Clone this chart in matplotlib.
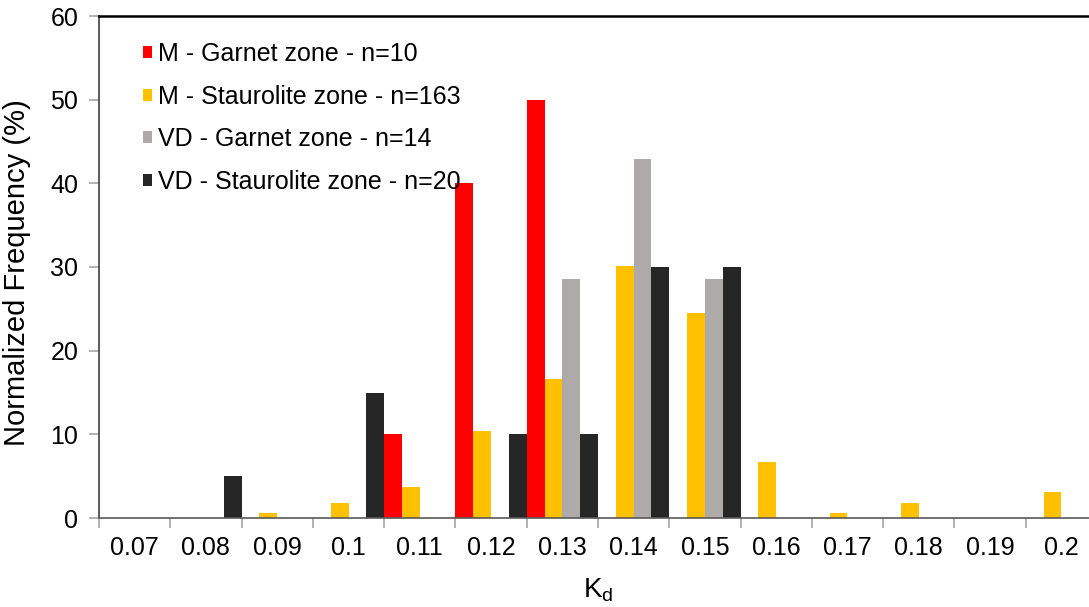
import numpy as np
import matplotlib
matplotlib.use("Agg")
import matplotlib.pyplot as plt

plt.rcParams['font.family'] = ['Liberation Sans', 'DejaVu Sans']
plt.rcParams['mathtext.default'] = 'regular'

kd_bins = ["0.07", "0.08", "0.09", "0.1", "0.11", "0.12", "0.13",
           "0.14", "0.15", "0.16", "0.17", "0.18", "0.19", "0.2"]

m_garnet = [0, 0, 0, 0, 10, 40, 50, 0, 0, 0, 0, 0, 0, 0]
m_staurolite = [0, 0, 0.61, 1.84, 3.68, 10.43, 16.56, 30.06, 24.54, 6.75, 0.61, 1.84, 0, 3.07]
vd_garnet = [0, 0, 0, 0, 0, 0, 28.57, 42.86, 28.57, 0, 0, 0, 0, 0]
vd_staurolite = [0, 5, 0, 15, 0, 10, 10, 30, 30, 0, 0, 0, 0, 0]

series = [m_garnet, m_staurolite, vd_garnet, vd_staurolite]
labels = ["M - Garnet zone - n=10", "M - Staurolite zone - n=163",
          "VD - Garnet zone - n=14", "VD - Staurolite zone - n=20"]
colors = ["#FF0000", "#FFC000", "#AEAAAA", "#262626"]

fig = plt.figure(figsize=(10.89, 6.07), dpi=100)
# axes runs a little past the right edge, like the original screenshot
ax = fig.add_axes([99/1089, 89/607, 998/1089, 502/607])

x = np.arange(len(kd_bins))
w = 0.25
for j, (vals, lab, col) in enumerate(zip(series, labels, colors)):
    ax.bar(x - 0.375 + j*w, vals, width=w, color=col, label=lab,
           edgecolor='none', zorder=2)

ax.set_xlim(-0.5, len(kd_bins) - 0.5)
ax.set_ylim(0, 60)
ax.set_yticks(range(0, 61, 10))

ax.set_xticks(np.arange(-0.5, len(kd_bins), 1))
ax.set_xticklabels([])
ax.set_xticks(x, minor=True)
ax.set_xticklabels(kd_bins, minor=True)
ax.tick_params(axis='x', which='major', direction='out', length=7, width=1.2, color='#A6A6A6')
ax.tick_params(axis='x', which='minor', length=0, pad=13, labelsize=18)
ax.tick_params(axis='y', direction='out', length=7, width=1.2, color='#A6A6A6',
               pad=8, labelsize=18)

ax.spines['top'].set_color('black')
ax.spines['top'].set_linewidth(1.8)
ax.spines['left'].set_color('#404040')
ax.spines['left'].set_linewidth(1.2)
ax.spines['bottom'].set_color('#595959')
ax.spines['bottom'].set_linewidth(1.2)
ax.spines['right'].set_visible(False)

ax.set_ylabel("Normalized Frequency (%)", fontsize=21)
ax.yaxis.set_label_coords(-0.068, 0.488)
ax.set_xlabel(r"$\mathregular{K_d}$", fontsize=20)
ax.xaxis.set_label_coords(0.5, -0.116)

ax.legend(loc='upper left', bbox_to_anchor=(0.0441, 0.948), frameon=False,
          fontsize=18, handlelength=0.36, handleheight=0.36, handletextpad=0.25,
          labelspacing=0.74, borderpad=0, borderaxespad=0)

fig.savefig("out.png", dpi=100)
